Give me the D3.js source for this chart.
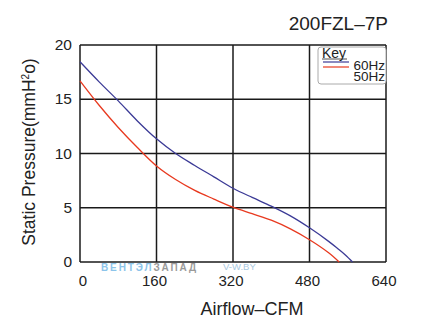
<!DOCTYPE html>
<html><head><meta charset="utf-8">
<script src="https://cdn.jsdelivr.net/npm/d3@7"></script>
<style>body{margin:0;background:#fff}svg{display:block}text{font-family:"Liberation Sans",Arial,sans-serif;fill:#222}</style>
</head><body><svg id="c" width="439" height="330"></svg>
<script>
const title = "200FZL–7P";
const xTicks = [0,160,320,480,640];
const yTicks = [0,5,10,15,20];
const cfm60 = [0,40,80,120,160,200,240,280,320,360,400,440,480,520,540,555,570];
const p60   = [18.45,16.6,14.85,13.0,11.35,10.0,8.9,7.85,6.8,5.95,5.15,4.25,3.15,1.9,1.2,0.65,0];
const cfm50 = [0,40,80,120,160,200,240,280,320,360,400,440,480,520,542];
const p50   = [16.7,14.45,12.4,10.55,8.85,7.6,6.6,5.8,5.05,4.45,3.85,3.05,2.05,0.85,0];
const seriesNames = ["60Hz","50Hz"];
const seriesColors = ["#3b3a96","#e8391f"];

const svg = d3.select("#c");
const x = d3.scaleLinear().domain([0,640]).range([80,386]);
const y = d3.scaleLinear().domain([0,20]).range([262,45]);

// grid
svg.append("g").selectAll("line").data(xTicks).join("line")
  .attr("x1",d=>x(d)).attr("x2",d=>x(d)).attr("y1",y(0)).attr("y2",y(20))
  .attr("stroke","#1a1a1a").attr("stroke-width",1.5);
svg.append("g").selectAll("line").data(yTicks).join("line")
  .attr("y1",d=>y(d)).attr("y2",d=>y(d)).attr("x1",x(0)).attr("x2",x(640))
  .attr("stroke","#1a1a1a").attr("stroke-width",1.5);

// watermark
const wm = svg.append("text").attr("x",101).attr("y",270.5).attr("font-size",10).attr("font-weight","bold").attr("letter-spacing",1.9);
wm.append("tspan").text("ВЕНТЭЛ").style("fill","#8cc4ea");
wm.append("tspan").text("ЗАПАД").style("fill","#9a9a9a");
svg.append("text").attr("x",223).attr("y",270).attr("font-size",9.5).text("V-W.BY").style("fill","#a9c8e0");

// curves
const line = d3.line().x(d=>x(d[0])).y(d=>y(d[1])).curve(d3.curveCatmullRom);
[[cfm60,p60],[cfm50,p50]].forEach((s,i)=>{
  svg.append("path").datum(s[0].map((c,j)=>[c,s[1][j]]))
    .attr("d",line).attr("fill","none").attr("stroke",seriesColors[i]).attr("stroke-width",1.3);
});

// tick labels
svg.append("g").selectAll("text").data(xTicks).join("text")
  .attr("x",d=>x(d)+ (d===0?3:-2)).attr("y",285.5).attr("text-anchor","middle").attr("font-size",15).text(d=>d);
svg.append("g").selectAll("text").data(yTicks).join("text")
  .attr("x",72).attr("y",d=>y(d)+5).attr("text-anchor","end").attr("font-size",15.5).text(d=>d);

// titles
svg.append("text").attr("x",388).attr("y",30).attr("text-anchor","end").attr("font-size",19).text(title);
svg.append("text").attr("x",252).attr("y",315).attr("text-anchor","middle").attr("font-size",18).text("Airflow–CFM");
const yt = svg.append("text").attr("transform","translate(35,152) rotate(-90)").attr("text-anchor","middle").attr("font-size",17.5);
yt.append("tspan").text("Static Pressure(mmH");
yt.append("tspan").attr("font-size",10).attr("dy",-6).text("2");
yt.append("tspan").attr("dy",6).text("o)");

// legend
svg.append("rect").attr("x",318).attr("y",47).attr("width",68).attr("height",37).attr("rx",3)
  .attr("fill","#fff").attr("stroke","#aaa").attr("stroke-width",1);
svg.append("text").attr("x",322).attr("y",57.5).attr("font-size",14).text("Key");
svg.append("line").attr("x1",322).attr("x2",347).attr("y1",59).attr("y2",59).attr("stroke","#222").attr("stroke-width",0.8);
seriesNames.forEach((n,i)=>{
  svg.append("line").attr("x1",323).attr("x2",349).attr("y1",62+i*5).attr("y2",62+i*5).attr("stroke",seriesColors[i]).attr("stroke-width",1.2);
  svg.append("text").attr("x",385).attr("y",69.5+i*11).attr("text-anchor","end").attr("font-size",13.5).text(n);
});
</script></body></html>
